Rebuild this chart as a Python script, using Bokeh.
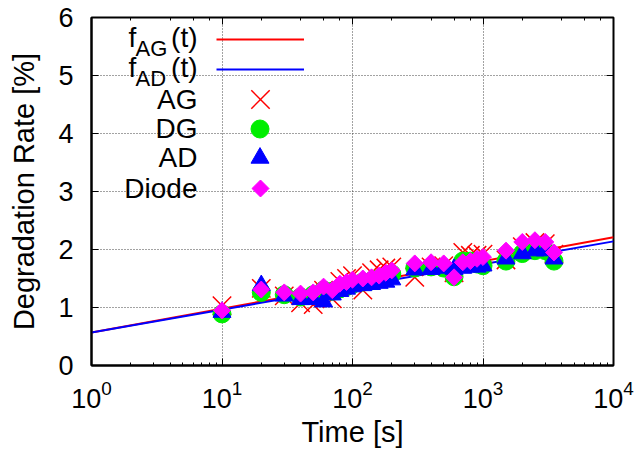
import numpy as np
from bokeh.plotting import figure
from bokeh.models import (Legend, LegendItem, Label, LogAxis, LinearAxis,
                          LogTicker, FixedTicker, Range1d, LinearScale)
from bokeh.embed import file_html
from bokeh.resources import INLINE

# ---------------- data ----------------
times = [10, 20, 30, 40, 50, 60, 70, 80, 90, 100, 120, 140, 160, 180, 200,
         300, 400, 500, 600, 700, 800, 900, 1000, 1500, 2000, 2500, 3000, 3500]
ag = [1.03, 1.33, 1.20, 1.08, 1.05, 1.30, 1.15, 1.45, 1.50, 1.55, 1.30, 1.60, 1.65, 1.68, 1.70,
      1.52, 1.70, 1.72, 1.60, 1.95, 1.90, 1.90, 1.92, 1.82, 2.05, 2.12, 2.10, 1.92]
dg = [0.89, 1.26, 1.22, 1.18, 1.22, 1.30, 1.28, 1.32, 1.36, 1.40, 1.44, 1.46, 1.50, 1.54, 1.58,
      1.68, 1.70, 1.68, 1.53, 1.80, 1.80, 1.75, 1.72, 1.80, 1.93, 1.98, 1.98, 1.80]
ad = [0.92, 1.38, 1.20, 1.14, 1.14, 1.10, 1.22, 1.28, 1.32, 1.36, 1.38, 1.40, 1.42, 1.44, 1.48,
      1.65, 1.66, 1.68, 1.66, 1.68, 1.70, 1.70, 1.72, 1.84, 1.93, 1.98, 1.98, 1.84]
diode = [0.95, 1.31, 1.26, 1.24, 1.26, 1.36, 1.30, 1.41, 1.44, 1.48, 1.50, 1.52, 1.55, 1.60, 1.64,
         1.76, 1.78, 1.76, 1.52, 1.78, 1.80, 1.84, 1.87, 1.98, 2.13, 2.16, 2.13, 1.95]
fit_t = [1, 10000]
f_ag = [0.57, 2.21]
f_ad = [0.57, 2.14]
y_ticks = [0, 1, 2, 3, 4, 5, 6]

FONT = "Liberation Sans"
RED, GREEN, BLUE, MAGENTA = "#ff0000", "#00ee00", "#0000ff", "#ff00ff"

W, H = 639, 452
BL, BR, BT, BB = 91, 26, 17, 87
p = figure(width=W, height=H, x_axis_type="log", x_range=(1, 1e4), y_range=(0, 6),
           output_backend="svg", toolbar_location=None,
           min_border_left=BL, min_border_right=BR, min_border_top=BT, min_border_bottom=BB)
p.outline_line_color = "black"
p.outline_line_width = 2
p.background_fill_color = "white"
p.border_fill_color = "white"
# pixel-space ranges (frame pixels) used only for placing legend keys
p.extra_x_ranges = {"px": Range1d(0, W - BL - BR)}
p.extra_x_scales = {"px": LinearScale()}
p.extra_y_ranges = {"py": Range1d(0, H - BT - BB)}

# grids
for g in (p.xgrid, p.ygrid):
    g.grid_line_color = "#444444"
    g.grid_line_dash = "1 2"
    g.grid_line_width = 1
p.ygrid.ticker = FixedTicker(ticks=y_ticks)

# axes
p.yaxis.ticker = FixedTicker(ticks=y_ticks)
for ax in (p.xaxis[0], p.yaxis[0]):
    ax.axis_line_width = 2
    ax.axis_line_color = "black"
    ax.major_tick_in = 7
    ax.major_tick_out = 0
    ax.minor_tick_in = 3
    ax.minor_tick_out = 0
    ax.major_tick_line_width = 1
    ax.major_label_text_font = FONT
    ax.major_label_text_font_size = "27px"
    ax.major_label_text_color = "black"
    ax.axis_label_text_font = FONT
    ax.axis_label_text_font_size = "29px"
    ax.axis_label_text_font_style = "normal"
    ax.axis_label_text_color = "black"
p.yaxis.minor_tick_line_color = None
p.xaxis.axis_label = "Time [s]"
p.yaxis.axis_label = "Degradation Rate [%]"
p.xaxis.major_label_standoff = 14
p.xaxis.axis_label_standoff = 5
p.yaxis.major_label_standoff = 18
p.yaxis.axis_label_standoff = 15

top = LogAxis(ticker=LogTicker(), major_tick_in=7, major_tick_out=0, minor_tick_in=3, minor_tick_out=0,
              major_label_text_font_size="1px", major_label_text_color=None,
              axis_line_color=None, major_label_standoff=0)
right = LinearAxis(ticker=FixedTicker(ticks=y_ticks), major_tick_in=7, major_tick_out=0,
                   minor_tick_line_color=None, major_label_text_font_size="1px",
                   major_label_text_color=None, axis_line_color=None, major_label_standoff=0)
p.add_layout(top, "above")
p.add_layout(right, "right")

# fit lines
r_fag = p.line(fit_t, f_ag, line_color=RED, line_width=2)
r_fad = p.line(fit_t, f_ad, line_color=BLUE, line_width=2)

# data
r_ag = p.scatter(times, ag, marker="x", size=26, line_color=RED, line_width=1.5)
r_dg = p.scatter(times, dg, marker="circle", size=18, fill_color=GREEN, line_color=GREEN)
r_ad = p.scatter(times, ad, marker="triangle", size=18, fill_color=BLUE, line_color=BLUE)
r_di = p.scatter(times, diode, marker="square", size=12, angle=np.pi / 4,
                 fill_color=MAGENTA, line_color=MAGENTA)

# ---------------- legend ----------------
rows = [326, 296, 266, 237, 208, 177]
KEY_X = 169


def add_legend(renderer, gw, gh, cx, cy):
    leg = Legend(items=[LegendItem(label=" ", renderers=[renderer], index=0)],
                 location=(int(cx - gw / 2), int(cy - gh / 2)), glyph_width=gw, glyph_height=gh,
                 padding=0, margin=0, spacing=0, label_standoff=0, label_width=2,
                 label_height=2, label_text_font_size="2px",
                 border_line_color=None, background_fill_alpha=0)
    p.add_layout(leg)


add_legend(r_fag, 88, 20, KEY_X, rows[0])
add_legend(r_fad, 88, 20, KEY_X, rows[1])
add_legend(r_dg, 45, 45, KEY_X, rows[3])
add_legend(r_ad, 45, 45, KEY_X, rows[4])

# keys that the legend cannot draw faithfully (cross colour, rotated square)
p.scatter([KEY_X], [rows[2]], x_range_name="px", y_range_name="py",
          marker="x", size=26, line_color=RED, line_width=1.5)
p.scatter([KEY_X], [rows[5]], x_range_name="px", y_range_name="py",
          marker="square", size=12, angle=np.pi / 4, fill_color=MAGENTA, line_color=MAGENTA)


# legend texts
def lab(text, x, y, size, align="right"):
    p.add_layout(Label(x=x, y=y, x_units="screen", y_units="screen", text=text,
                       text_font=FONT, text_font_size=size, text_align=align,
                       text_baseline="middle", text_color="black"))


for i, sub in enumerate(["AG", "AD"]):
    y = rows[i]
    lab("f", 37, y + 2, "28px", "left")
    lab(sub, 44, y - 9, "22px", "left")
    lab("(t)", 106, y + 2, "28px")
lab("AG", 106, rows[2], "28px")
lab("DG", 106, rows[3], "28px")
lab("AD", 106, rows[4], "28px")
lab("Diode", 106, rows[5], "28px")

open("out.html", "w").write(file_html(p, INLINE))
